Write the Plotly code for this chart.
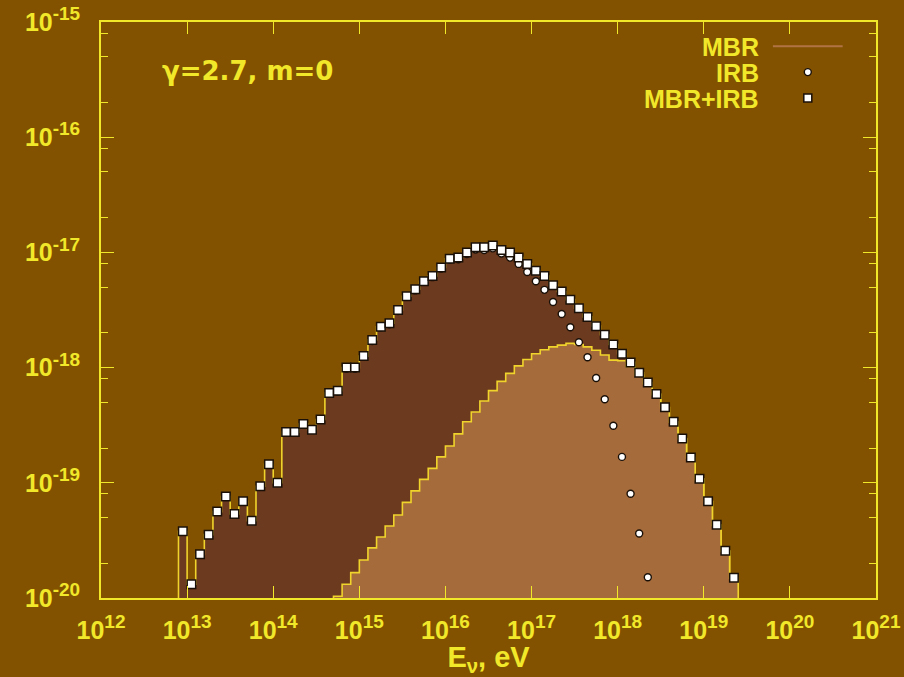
import numpy as np
import plotly.graph_objects as go

# ---------------- data (log10 values) ----------------
# bin centres, log10(E / eV); bins are 0.1 decade wide
log_e_centres = [
    12.95, 13.05, 13.15, 13.25, 13.35, 13.45, 13.55, 13.65, 13.75, 13.85,
    13.95, 14.05, 14.15, 14.25, 14.35, 14.45, 14.55, 14.65, 14.75, 14.85,
    14.95, 15.05, 15.15, 15.25, 15.35, 15.45, 15.55, 15.65, 15.75, 15.85,
    15.95, 16.05, 16.15, 16.25, 16.35, 16.45, 16.55, 16.65, 16.75, 16.85,
    16.95, 17.05, 17.15, 17.25, 17.35, 17.45, 17.55, 17.65, 17.75, 17.85,
    17.95, 18.05, 18.15, 18.25, 18.35, 18.45, 18.55, 18.65, 18.75, 18.85,
    18.95, 19.05, 19.15, 19.25, 19.35,
]
bin_half_width = 0.05

# MBR+IRB (all 65 bins)
total_log = [
    -19.42, -19.88, -19.62, -19.45, -19.25, -19.12, -19.27, -19.16, -19.33, -19.03,
    -18.84, -19.00, -18.56, -18.56, -18.49, -18.54, -18.45, -18.22, -18.20, -18.00,
    -18.00, -17.90, -17.76, -17.645, -17.615, -17.50, -17.38, -17.32, -17.25, -17.205,
    -17.13, -17.055, -17.045, -17.00, -16.955, -16.955, -16.94, -16.98, -17.00, -17.045,
    -17.10, -17.16, -17.205, -17.285, -17.34, -17.41, -17.485, -17.56, -17.64, -17.715,
    -17.80, -17.88, -17.955, -18.045, -18.13, -18.23, -18.345, -18.47, -18.615, -18.78,
    -18.965, -19.16, -19.365, -19.59, -19.825,
]

# MBR (bins 18 .. 64)
mbr_first_bin = 18
mbr_log = [
    -19.985, -19.88, -19.78, -19.67, -19.565, -19.47, -19.375, -19.28, -19.17, -19.07,
    -18.97, -18.875, -18.775, -18.68, -18.575, -18.47, -18.385, -18.29, -18.20, -18.12,
    -18.05, -17.985, -17.93, -17.88, -17.845, -17.82, -17.805, -17.79, -17.80, -17.82,
    -17.85, -17.89, -17.935, -17.94, -17.99, -18.065, -18.14, -18.235, -18.35, -18.475,
    -18.62, -18.785, -18.97, -19.165, -19.37, -19.595, -19.83,
]

# IRB (bins 0 .. 54)
irb_log = [
    -19.42, -19.88, -19.62, -19.45, -19.25, -19.12, -19.27, -19.16, -19.33, -19.03,
    -18.84, -19.00, -18.56, -18.56, -18.49, -18.54, -18.45, -18.22, -18.21, -18.01,
    -18.01, -17.905, -17.77, -17.65, -17.625, -17.51, -17.385, -17.33, -17.255, -17.215,
    -17.14, -17.065, -17.06, -17.015, -16.975, -16.98, -16.965, -17.01, -17.045, -17.10,
    -17.17, -17.25, -17.325, -17.43, -17.535, -17.65, -17.78, -17.91, -18.09, -18.275,
    -18.505, -18.775, -19.095, -19.44, -19.82,
]

x_tick_exponents = list(range(12, 22))
y_tick_exponents = list(range(-20, -14))
y_minor_mantissas = [2, 5, 8]

# ---------------- styles ----------------
BG = "#825200"
DARK = "#6C3A1E"
LIGHT = "#A56B3A"
YEL = "#F2E82A"
LINE_YEL = "#F0D42C"
FONT = "Liberation Sans"
EXP_SIZE = 19


def step_polygon(centres, logvals, base=1e-21):
    xs, ys = [], []
    c = np.asarray(centres)
    v = 10.0 ** np.asarray(logvals)
    xs.append(10 ** (c[0] - bin_half_width)); ys.append(base)
    for ci, vi in zip(c, v):
        xs += [10 ** (ci - bin_half_width), 10 ** (ci + bin_half_width)]
        ys += [vi, vi]
    xs.append(10 ** (c[-1] + bin_half_width)); ys.append(base)
    return xs, ys


def pow_label(e):
    return f"10<sup><span style='font-size:{EXP_SIZE}px'>{e}</span></sup>"


fig = go.Figure()

# MBR+IRB filled histogram
tx, ty = step_polygon(log_e_centres, total_log)
fig.add_trace(go.Scatter(x=tx, y=ty, mode="lines", fill="toself", fillcolor=DARK,
                         line=dict(color=LINE_YEL, width=1.6), hoverinfo="skip"))

# MBR filled histogram
mbr_centres = log_e_centres[mbr_first_bin:mbr_first_bin + len(mbr_log)]
mx, my = step_polygon(mbr_centres, mbr_log)
fig.add_trace(go.Scatter(x=mx, y=my, mode="lines", fill="toself", fillcolor=LIGHT,
                         line=dict(color=LINE_YEL, width=1.6), hoverinfo="skip"))

# IRB circles
irb_centres = log_e_centres[:len(irb_log)]
fig.add_trace(go.Scatter(x=[10 ** c for c in irb_centres], y=[10 ** v for v in irb_log],
                         mode="markers",
                         marker=dict(symbol="circle", size=7, color="white",
                                     line=dict(color="#1a1008", width=1.4))))

# MBR+IRB squares
fig.add_trace(go.Scatter(x=[10 ** c for c in log_e_centres], y=[10 ** v for v in total_log],
                         mode="markers",
                         marker=dict(symbol="square", size=8.5, color="white",
                                     line=dict(color="#1a1008", width=1.5))))

axis_common = dict(
    type="log", showgrid=False, zeroline=False, automargin=False,
    showline=True, linecolor=YEL, linewidth=1.6, mirror="allticks",
    ticks="inside", tickcolor=YEL, tickwidth=1.4,
    tickfont=dict(family=FONT, size=25, color=YEL, weight="bold"),
)

fig.update_xaxes(
    **axis_common, range=[12, 21], ticklen=12, ticklabelstandoff=9,
    tickvals=[10.0 ** e for e in x_tick_exponents],
    ticktext=[pow_label(e) for e in x_tick_exponents],
    title=dict(text="E<sub>ν</sub>, eV", standoff=14,
               font=dict(family=FONT, size=29, color=YEL, weight="bold")),
)
fig.update_yaxes(
    **axis_common, range=[-20, -15], ticklen=13, ticklabelstandoff=14,
    tickvals=[10.0 ** e for e in y_tick_exponents],
    ticktext=[pow_label(e) for e in y_tick_exponents],
    minor=dict(tickmode="array",
               tickvals=[m * 10.0 ** e for e in y_tick_exponents[:-1] for m in y_minor_mantissas],
               ticks="inside", ticklen=7, tickcolor=YEL, tickwidth=1.4, showgrid=False),
)

# label and legend (paper coordinates)
fig.add_annotation(x=0.076, y=0.915, xref="paper", yref="paper", xanchor="left", yanchor="middle",
                   text="γ=2.7, m=0", showarrow=False,
                   font=dict(family="DejaVu Sans", size=26, color=YEL, weight="bold"))

legend_rows = [("MBR", 0.958), ("IRB", 0.913), ("MBR+IRB", 0.868)]
for label, yp in legend_rows:
    fig.add_annotation(x=0.85, y=yp, xref="paper", yref="paper", xanchor="right", yanchor="middle",
                       text=label, showarrow=False, borderpad=0, height=25, valign="middle",
                       font=dict(family=FONT, size=25, color=YEL, weight="bold"))

fig.add_shape(type="line", xref="paper", yref="paper", x0=0.867, x1=0.957, y0=0.958, y1=0.958,
              line=dict(color="#B07444", width=2))
fig.add_shape(type="circle", xref="paper", yref="paper", xsizemode="pixel", ysizemode="pixel",
              xanchor=0.912, yanchor=0.913, x0=-3.5, x1=3.5, y0=-3.5, y1=3.5,
              fillcolor="white", line=dict(color="#1a1008", width=1.4))
fig.add_shape(type="rect", xref="paper", yref="paper", xsizemode="pixel", ysizemode="pixel",
              xanchor=0.912, yanchor=0.868, x0=-4, x1=4, y0=-4, y1=4,
              fillcolor="white", line=dict(color="#1a1008", width=1.5))

fig.update_layout(
    width=904, height=677,
    margin=dict(l=101, r=28, t=22, b=79),
    paper_bgcolor=BG, plot_bgcolor=BG,
    showlegend=False,
)

fig.write_html(
    "out.html",
    config={"displayModeBar": False},
    post_script="document.body.style.margin='0';document.body.style.overflow='hidden';"
                "document.documentElement.style.background='" + BG + "';",
)
